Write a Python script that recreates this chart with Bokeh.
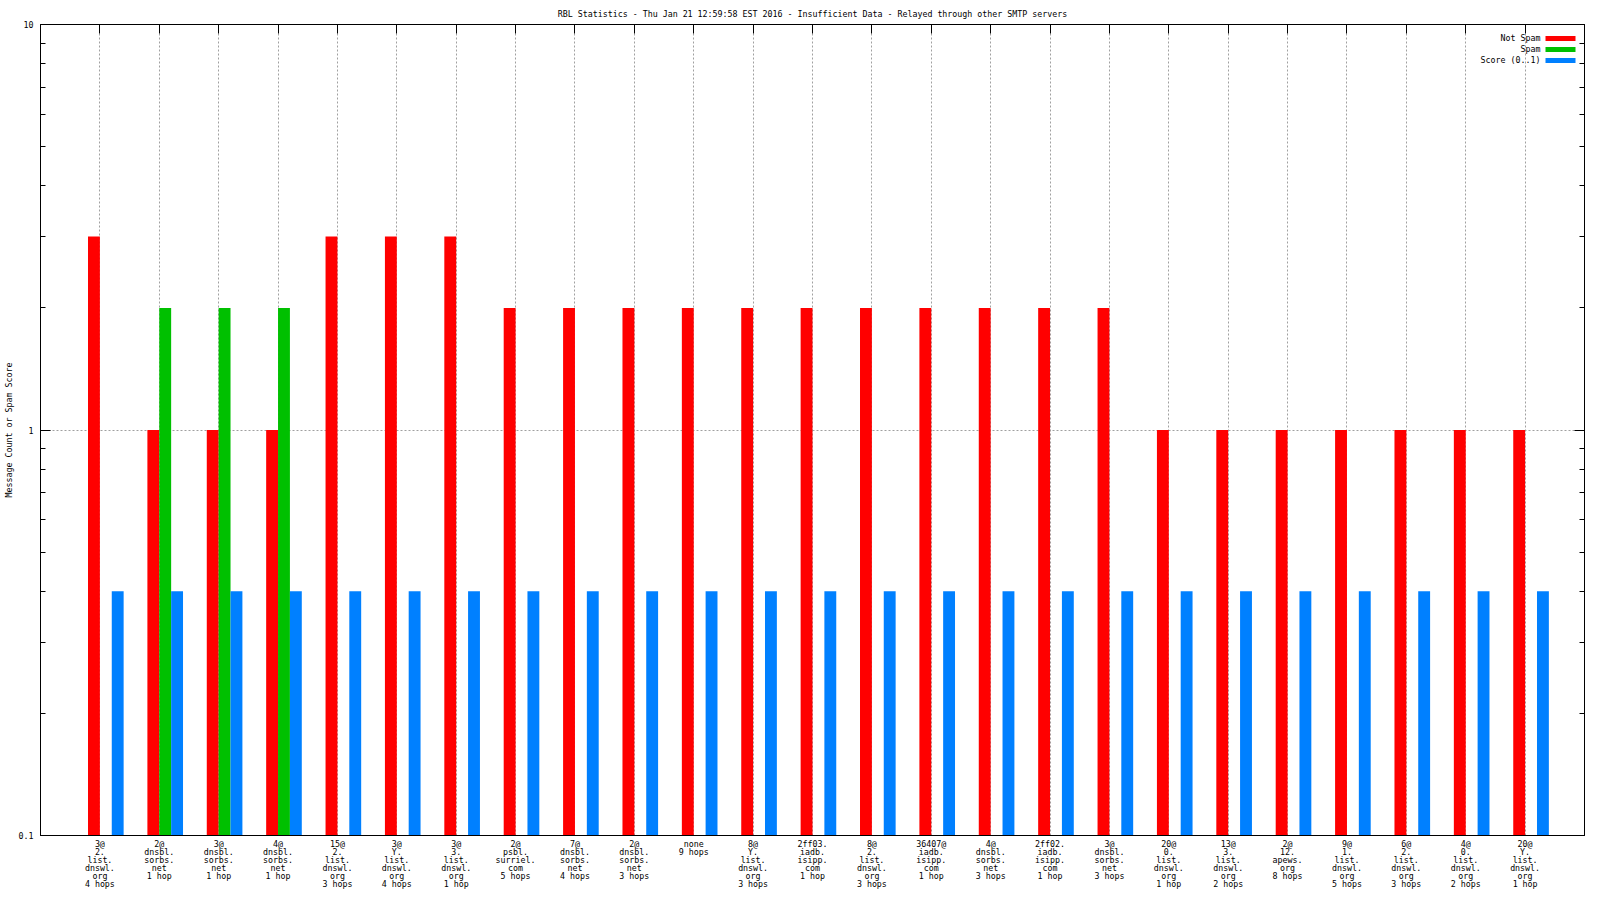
import math
from bokeh.plotting import figure
from bokeh.models import (Range1d, FixedTicker, LogAxis, LinearAxis, ColumnDataSource,
                          Label, BoxAnnotation, BasicTickFormatter, Title)
from bokeh.transform import dodge
from bokeh.embed import file_html
from bokeh.resources import INLINE

# ---------------- data ----------------
TITLE = ("RBL Statistics - Thu Jan 21 12:59:58 EST 2016 - Insufficient Data - "
         "Relayed through other SMTP servers")
Y_LABEL = "Message Count or Spam Score"

categories = [
    "3@\n2.\nlist.\ndnswl.\norg\n4 hops",
    "2@\ndnsbl.\nsorbs.\nnet\n1 hop",
    "3@\ndnsbl.\nsorbs.\nnet\n1 hop",
    "4@\ndnsbl.\nsorbs.\nnet\n1 hop",
    "15@\n2.\nlist.\ndnswl.\norg\n3 hops",
    "3@\nY.\nlist.\ndnswl.\norg\n4 hops",
    "3@\n3.\nlist.\ndnswl.\norg\n1 hop",
    "2@\npsbl.\nsurriel.\ncom\n5 hops",
    "7@\ndnsbl.\nsorbs.\nnet\n4 hops",
    "2@\ndnsbl.\nsorbs.\nnet\n3 hops",
    "none\n9 hops",
    "8@\nY.\nlist.\ndnswl.\norg\n3 hops",
    "2ff03.\niadb.\nisipp.\ncom\n1 hop",
    "8@\n2.\nlist.\ndnswl.\norg\n3 hops",
    "36407@\niadb.\nisipp.\ncom\n1 hop",
    "4@\ndnsbl.\nsorbs.\nnet\n3 hops",
    "2ff02.\niadb.\nisipp.\ncom\n1 hop",
    "3@\ndnsbl.\nsorbs.\nnet\n3 hops",
    "20@\n0.\nlist.\ndnswl.\norg\n1 hop",
    "13@\n3.\nlist.\ndnswl.\norg\n2 hops",
    "2@\n12.\napews.\norg\n8 hops",
    "9@\n1.\nlist.\ndnswl.\norg\n5 hops",
    "6@\n2.\nlist.\ndnswl.\norg\n3 hops",
    "4@\n0.\nlist.\ndnswl.\norg\n2 hops",
    "20@\nY.\nlist.\ndnswl.\norg\n1 hop",
]
not_spam = [3, 1, 1, 1, 3, 3, 3, 2, 2, 2, 2, 2, 2, 2, 2, 2, 2, 2, 1, 1, 1, 1, 1, 1, 1]
spam     = [0, 2, 2, 2, 0, 0, 0, 0, 0, 0, 0, 0, 0, 0, 0, 0, 0, 0, 0, 0, 0, 0, 0, 0, 0]
score    = [0.4, 0.4, 0.4, 0.4, 0.4, 0.4, 0.4, 0.4, 0.4, 0.4, 0.4, 0.4, 0.4,
            0.4, 0.4, 0.4, 0.4, 0.4, 0.4, 0.4, 0.4, 0.4, 0.4, 0.4, 0.4]
legend_labels = ["Not Spam", "Spam", "Score (0..1)"]
y_ticks = [0.1, 1, 10]

# ---------------- style ----------------
colors = ["#ff0000", "#00c000", "#0080ff"]
FONT = "DejaVu Sans Mono"
FS = "8.3px"
GRID = "#a0a0a0"

W, H = 1600, 900
L, R, T, B = 40, 16, 24, 65
FW = W - L - R
FH = H - T - B

n = len(categories)
xr = Range1d(-1, n)
yr = Range1d(0.1, 10)

p = figure(width=W, height=H, x_range=xr, y_range=yr, y_axis_type="log",
           output_backend="svg", toolbar_location=None,
           min_border_left=L, min_border_right=R, min_border_top=T, min_border_bottom=B)
p.background_fill_color = "white"
p.border_fill_color = "white"
p.outline_line_color = "black"
p.outline_line_width = 1


def fx(px):
    return xr.start + (px - L) * (xr.end - xr.start) / FW


def fy(py):
    lo, hi = math.log10(yr.start), math.log10(yr.end)
    return 10 ** (hi - (py - T) * (hi - lo) / FH)


x_idx = list(range(n))
minor = [m * 10 ** e for e in (-1, 0) for m in range(2, 10)]


def hide_labels(ax):
    ax.major_label_text_font_size = "1px"
    ax.major_label_text_alpha = 0
    ax.major_label_standoff = 0


def no_ticks(ax):
    ax.major_tick_in = 0
    ax.major_tick_out = 0
    ax.minor_tick_in = 0
    ax.minor_tick_out = 0


# title (above panel)
p.title = Title(text=TITLE, align="center", text_font=FONT, text_font_size=FS,
                text_font_style="normal", text_color="black", standoff=12)

# bottom axis: multi-line category labels
bx = p.xaxis[0]
bx.ticker = FixedTicker(ticks=x_idx)
bx.major_label_overrides = {i: c for i, c in enumerate(categories)}
no_ticks(bx)
bx.major_label_standoff = 3
bx.major_label_text_font = FONT
bx.major_label_text_font_size = FS
bx.major_label_text_line_height = 0.81
bx.major_label_text_color = "black"
bx.axis_line_color = "black"

# left axis
ly = p.yaxis[0]
ly.ticker = FixedTicker(ticks=y_ticks, minor_ticks=minor)
ly.formatter = BasicTickFormatter()
ly.major_tick_in = 10
ly.major_tick_out = 0
ly.minor_tick_in = 5
ly.minor_tick_out = 0
ly.major_label_standoff = 7
ly.major_label_text_font = FONT
ly.major_label_text_font_size = FS
ly.major_label_text_color = "black"
ly.axis_line_color = "black"
ly.axis_label = Y_LABEL
ly.axis_label_text_font = FONT
ly.axis_label_text_font_size = FS
ly.axis_label_text_font_style = "normal"
ly.axis_label_text_color = "black"
ly.axis_label_standoff = 2

# mirrored axes
ry = LogAxis(ticker=FixedTicker(ticks=y_ticks, minor_ticks=minor),
             major_tick_in=10, major_tick_out=0, minor_tick_in=5, minor_tick_out=0,
             axis_line_color="black")
hide_labels(ry)
p.add_layout(ry, "right")
tx = LinearAxis(ticker=FixedTicker(ticks=x_idx), major_tick_in=9, major_tick_out=0,
                minor_tick_in=0, minor_tick_out=0, axis_line_color="black")
hide_labels(tx)
p.add_layout(tx, "above")

# grids
p.xgrid.ticker = FixedTicker(ticks=x_idx)
p.xgrid.grid_line_color = GRID
p.xgrid.grid_line_dash = "2 2"
p.ygrid.ticker = FixedTicker(ticks=y_ticks)
p.ygrid.grid_line_color = GRID
p.ygrid.grid_line_dash = "2 2"
p.ygrid.minor_grid_line_color = None

# bars
src = ColumnDataSource(dict(x=x_idx, not_spam=not_spam, score=score))
sx = [i for i, v in enumerate(spam) if v > 0]
src_spam = ColumnDataSource(dict(x=sx, spam=[spam[i] for i in sx]))
p.vbar(x=dodge("x", -0.1), top="not_spam", bottom=0.05, width=0.2, source=src,
       fill_color=colors[0], line_color=None)
p.vbar(x=dodge("x", 0.1), top="spam", bottom=0.05, width=0.2, source=src_spam,
       fill_color=colors[1], line_color=None)
p.vbar(x=dodge("x", 0.3), top="score", bottom=0.05, width=0.2, source=src,
       fill_color=colors[2], line_color=None)

# legend (text right-aligned, swatch on right)
for k, (lab, c) in enumerate(zip(legend_labels, colors)):
    cy = 38.0 + 11 * k
    p.add_layout(BoxAnnotation(left=fx(1545), right=fx(1575), top=fy(cy - 2.5),
                               bottom=fy(cy + 2.5), fill_color=c, fill_alpha=1,
                               line_alpha=0))
    p.add_layout(Label(x=fx(1540), y=fy(cy - 0.5), text=lab, text_align="right",
                       text_baseline="middle", text_font=FONT, text_font_size=FS,
                       text_color="black"))

open("out.html", "w").write(file_html(p, INLINE))
